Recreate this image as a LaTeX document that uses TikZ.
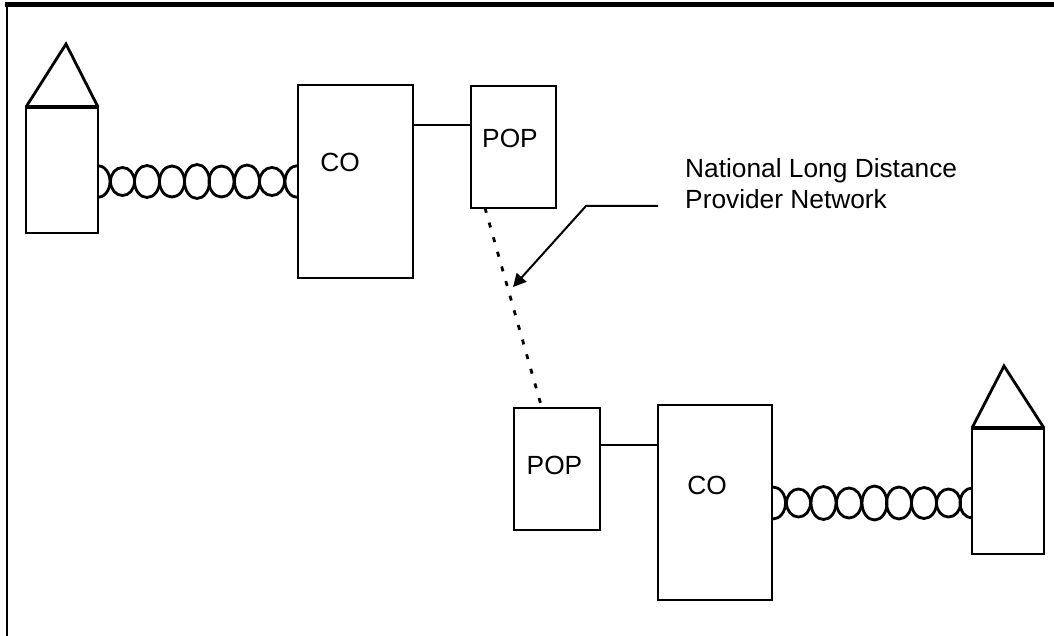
\documentclass[tikz,border=0pt]{standalone}
\usepackage{fontspec}
\setmainfont{Liberation Sans}
\usetikzlibrary{arrows.meta}

\tikzset{
	wire/.style={black,line width=2.8pt},
	box/.style={draw=black,line width=2.8pt,inner sep=0pt,outer sep=0pt},
	label/.style={font=\fontsize{26.3}{31}\selectfont,inner sep=0pt,align=left}
}

\begin{document}
\begin{tikzpicture}[x=1pt,y=-1pt]
	\useasboundingbox (0,0) rectangle (1054,636);
	
	% frame
	\draw[line width=4.4pt] (5,4.5) -- (1054,4.5);
	\draw[line width=2.4pt] (7.2,4.5) -- (7.2,636);
	
	% left side
	\node[box,minimum width=72pt,minimum height=126pt] (homeL) at (62,170) {};
	\node[box,minimum width=115pt,minimum height=193pt] (coL) at (355.5,181.5) {};
	\node[box,minimum width=85pt,minimum height=122pt] (popL) at (513.5,147) {};
	\coordinate (roofL) at (66,44);
	\draw[wire] (homeL.north west) -- (roofL) -- (homeL.north east);
	\draw[line width=4pt] (homeL.north west) -- (homeL.north east);
	\draw[wire] (coL.east |- 0,125) -- (popL.west |- 0,125);
	\node[label,anchor=center] (coLtext) at (340,162.5) {CO};
	\node[label,anchor=center] (popLtext) at (510,138) {POP};
	
	% right side
	\node[box,minimum width=72pt,minimum height=126pt] (homeR) at (1008,491) {};
	\node[box,minimum width=114pt,minimum height=195pt] (coR) at (715,502.5) {};
	\node[box,minimum width=86pt,minimum height=122pt] (popR) at (557,469) {};
	\coordinate (roofR) at (1004,366);
	\draw[wire] (homeR.north west) -- (roofR) -- (homeR.north east);
	\draw[line width=4pt] (homeR.north west) -- (homeR.north east);
	\draw[wire] (popR.east |- 0,445) -- (coR.west |- 0,445);
	\node[label,anchor=center] (coRtext) at (707,485.5) {CO};
	\node[label,anchor=center] (popRtext) at (554.5,465) {POP};
	
	% coils
	\foreach \cx/\rx/\ry in {122.5/12/14, 147/12.5/16, 172/12.5/15.5, 197/12.5/17, 221.5/12.5/15.5, 247/12.5/16.5, 272/12.5/14}{
		\draw[wire] (\cx,181.5) ellipse (\rx pt and \ry pt);
	}
	\draw[wire] (97.5,165.5) arc[start angle=90,end angle=-90,x radius=12.5pt,y radius=16pt];
	\draw[wire] (298,165.5) arc[start angle=90,end angle=270,x radius=13pt,y radius=16pt];
	
	\foreach \cx/\rx/\ry in {798.5/12/14, 823.5/12.5/16.5, 849/12.5/15, 874.5/12.5/17, 899/12.5/16, 924/12.5/15.5, 948.5/12/14}{
		\draw[wire] (\cx,503) ellipse (\rx pt and \ry pt);
	}
	\draw[wire] (773,487) arc[start angle=90,end angle=-90,x radius=12.5pt,y radius=16pt];
	\draw[wire] (972,488) arc[start angle=90,end angle=270,x radius=12pt,y radius=15pt];
	
	% long distance link
	\coordinate (linkA) at (485,208);
	\coordinate (linkB) at (541,405);
	\draw[line width=2.8pt,dash pattern=on 5pt off 10.2pt] (linkA) -- (linkB);
	
	% callout
	\node[label,anchor=north west] (callout) at (685,158) {National Long Distance\\Provider Network};
	\coordinate (calloutA) at (658,206);
	\coordinate (calloutB) at (586,206);
	\coordinate (calloutC) at (513,287);
	\draw[line width=2pt,-{Triangle[length=13pt,width=13pt]}] (calloutA) -- (calloutB) -- (calloutC);
	
\end{tikzpicture}
\end{document}
